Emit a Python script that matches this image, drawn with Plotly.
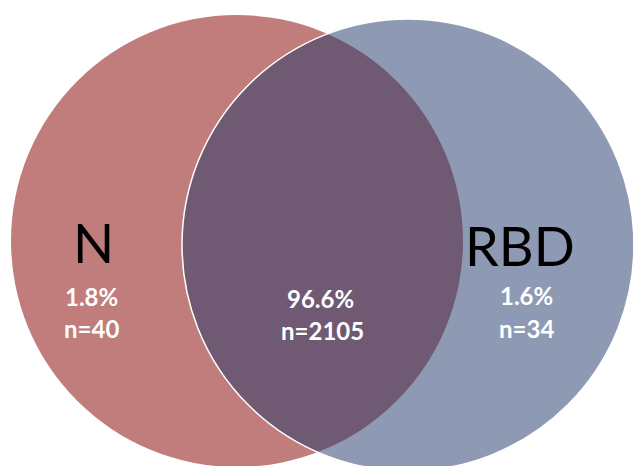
import plotly.graph_objects as go

# Data
set_names = ["N", "RBD"]
region_pct = ["1.8%", "96.6%", "1.6%"]      # N only, both, RBD only
region_n = [40, 2105, 34]

W, H = 633, 466
fig = go.Figure()

# geometry (pixel coordinates, y grows downward)
left_c, right_c, r = (237, 241), (408, 245), 226

fig.add_shape(type="circle", xref="x", yref="y",
              x0=left_c[0] - r, x1=left_c[0] + r, y0=left_c[1] - r, y1=left_c[1] + r,
              fillcolor="rgb(192,125,124)", line=dict(width=0), layer="below")
fig.add_shape(type="circle", xref="x", yref="y",
              x0=right_c[0] - r, x1=right_c[0] + r, y0=right_c[1] - r, y1=right_c[1] + r,
              fillcolor="rgba(29,53,105,0.5)", line=dict(color="white", width=1.5), layer="below")

# set labels
label_pos = [(93, 242), (520, 245)]
for name, (x, y) in zip(set_names, label_pos):
    fig.add_annotation(x=x, y=y, text=name, showarrow=False,
                       font=dict(family="Lato", size=54, color="black"))

# region labels
pct_pos = [(91, 296), (320, 298), (526, 295)]
n_pos = [(91, 328), (322, 330), (526, 328)]
for p, n, (px, py), (nx, ny) in zip(region_pct, region_n, pct_pos, n_pos):
    fig.add_annotation(x=px, y=py, text=f"<b>{p}</b>", showarrow=False,
                       font=dict(family="Lato", size=24, color="white"))
    fig.add_annotation(x=nx, y=ny, text=f"<b>n={n}</b>", showarrow=False,
                       font=dict(family="Lato", size=24, color="white"))

fig.add_trace(go.Scatter(x=[0, W], y=[0, H], mode="markers",
                         marker=dict(opacity=0), hoverinfo="skip", showlegend=False))

fig.update_xaxes(range=[0, W], visible=False, fixedrange=True)
fig.update_yaxes(range=[H, 0], visible=False, fixedrange=True)
fig.update_layout(width=W, height=H, margin=dict(l=0, r=0, t=0, b=0),
                  paper_bgcolor="white", plot_bgcolor="white", showlegend=False)

fig.write_html("out.html", config={"displayModeBar": False},
               post_script="document.body.style.margin='0';document.body.style.overflow='hidden';")
